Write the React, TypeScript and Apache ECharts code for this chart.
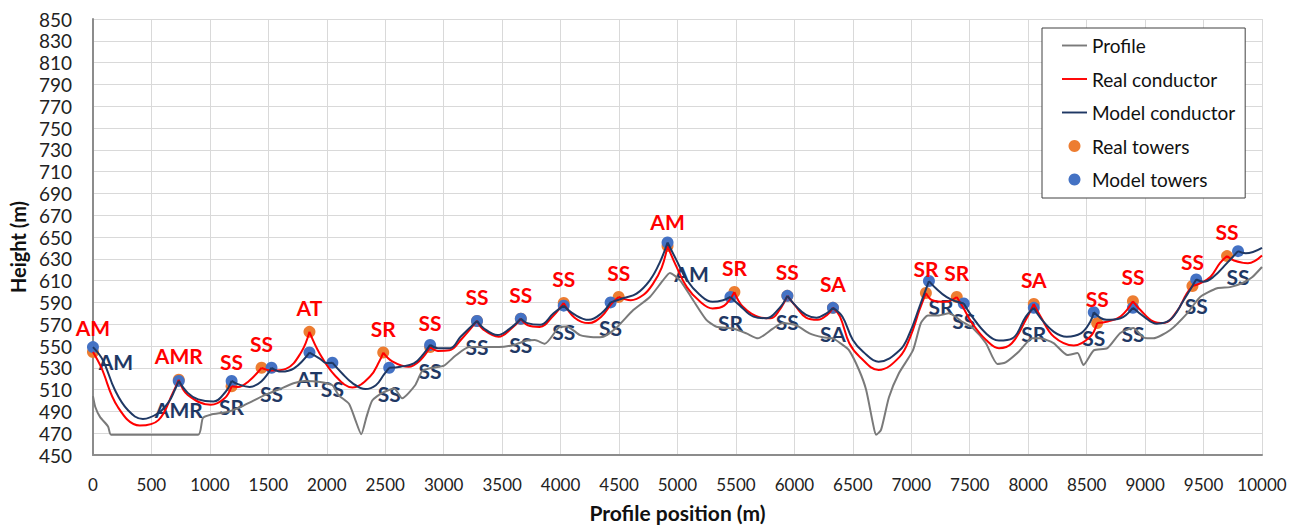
import React, { useEffect, useRef } from 'react';
import * as echarts from 'echarts';

// ---- Ground profile (m along line, height m)
const profileX = [0, 20, 60, 130, 155, 900, 940, 1007, 1152, 1263, 1348, 1468, 1578, 1723, 1809, 1945, 2048, 2100, 2190, 2245, 2295, 2340, 2389, 2474, 2577, 2645, 2756, 2816, 2900, 3003, 3100, 3217, 3300, 3473, 3600, 3712, 3780, 3865, 3985, 4053, 4167, 4281, 4366, 4470, 4622, 4764, 4878, 4935, 5020, 5134, 5247, 5333, 5475, 5589, 5688, 5816, 5901, 6015, 6129, 6245, 6330, 6400, 6468, 6553, 6613, 6672, 6698, 6741, 6809, 6894, 7014, 7082, 7142, 7236, 7321, 7440, 7526, 7637, 7736, 7807, 7921, 8035, 8100, 8217, 8336, 8422, 8473, 8561, 8677, 8788, 8899, 8985, 9070, 9215, 9360, 9471, 9616, 9727, 9838, 9915, 10000];
const profileY = [504, 494, 485, 476, 468.5, 468.5, 484, 487, 489.5, 494, 498.6, 505, 509.6, 516, 518, 517, 514, 505, 497, 482, 469, 485, 500, 507, 511, 502, 514, 527, 530, 532, 541, 549, 549, 549, 551, 555, 555.5, 552, 567, 568, 560, 558, 558.5, 566, 583, 595, 610.5, 617, 610.5, 592, 574, 567.7, 566, 561.6, 557, 566, 571, 569, 561.6, 558, 557, 552, 546, 528, 510, 479, 468.5, 473, 503, 525, 546, 571, 578, 578, 580, 572, 566.5, 552.7, 533.5, 535, 545, 557, 557, 552.7, 541.7, 543.6, 532.6, 546, 548, 562, 566.5, 558, 557, 564.7, 580, 595, 603, 604, 608, 613, 622.5];

// ---- Real towers
const realTowerX = [0, 734, 1186, 1442, 1852, 2483, 2884, 3285, 3660, 4027, 4497, 4915, 5487, 5940, 6330, 7125, 7389, 8048, 8590, 8896, 9405, 9701];
const realTowerY = [544.5, 519, 513, 530, 563, 544, 549, 573, 575, 589.5, 595, 641.7, 599.5, 596, 585, 598.6, 595, 588.5, 571, 591, 605, 632.5];
const realLabels = ['AM', 'AMR', 'SS', 'SS', 'AT', 'SR', 'SS', 'SS', 'SS', 'SS', 'SS', 'AM', 'SR', 'SS', 'SA', 'SR', 'SR', 'SA', 'SS', 'SS', 'SS', 'SS'];

// ---- Model towers
const modelTowerX = [0, 734, 1186, 1527, 1852, 2048, 2534, 2884, 3285, 3660, 4027, 4428, 4915, 5453, 5940, 6330, 7151, 7449, 8048, 8561, 8896, 9437, 9795];
const modelTowerY = [549, 518, 518, 530, 544, 534.7, 530, 551, 573, 575, 587, 590, 645, 595, 596, 585, 609.6, 589, 585, 581, 585, 611, 637];
const modelLabels = ['AM', 'AMR', 'SR', 'SS', 'AT', 'SS', 'SS', 'SS', 'SS', 'SS', 'SS', 'SS', 'AM', 'SR', 'SS', 'SA', 'SR', 'SS', 'SR', 'SS', 'SS', 'SS', 'SS'];

// ---- Conductor sag points inside each span
const realSpanPoints: number[][][] = [
  [[68, 531], [213, 494], [400, 477], [560, 482], [683, 507]],
  [[811, 505], [1007, 496], [1126, 502]],
  [[1240, 512.4], [1330, 517.5]],
  [[1530, 527.5], [1650, 529], [1780, 544]],
  [[1940, 543], [2070, 523], [2220, 512], [2370, 522], [2450, 536]],
  [[2560, 536], [2700, 531], [2800, 537]],
  [[2950, 545.5], [3050, 546], [3150, 556]],
  [[3340, 565], [3470, 558.5], [3580, 566]],
  [[3720, 569], [3820, 567.5], [3940, 578]],
  [[4120, 576], [4240, 571], [4350, 577], [4437, 589]],
  [[4600, 592], [4710, 597], [4790, 607], [4865, 622]],
  [[4990, 623], [5080, 604], [5190, 591], [5300, 584.5], [5400, 587]],
  [[5560, 586], [5700, 576.5], [5800, 575.5], [5873, 583]],
  [[6010, 586.5], [6100, 576], [6200, 574], [6280, 578.5]],
  [[6390, 577], [6470, 552.5], [6560, 540], [6720, 528], [6900, 540], [6990, 558], [7070, 583]],
  [[7180, 592], [7290, 590.5]],
  [[7440, 586], [7520, 571], [7640, 555.5], [7750, 548], [7860, 552.5], [7980, 574]],
  [[8106, 577], [8220, 558.5], [8390, 550.5], [8530, 558.5]],
  [[8680, 572.5], [8790, 577]],
  [[8960, 583], [9070, 572.5], [9160, 571], [9270, 581.5], [9355, 598]],
  [[9470, 607.5], [9560, 613.5], [9640, 626]],
  [[9760, 628.5], [9880, 626]],
];
const realEnd = [10000, 633];

const modelSpanPoints: number[][][] = [
  [[85, 537], [188, 509.6], [300, 491], [427, 483], [560, 488.5], [650, 499], [700, 509.6]],
  [[811, 507], [900, 501], [1030, 499], [1135, 508]],
  [[1240, 515], [1340, 512.5], [1440, 517.5]],
  [[1610, 526.5], [1720, 529.5]],
  [[1940, 538.5], [1995, 534.5]],
  [[2130, 525], [2220, 516], [2330, 510.5], [2420, 514], [2490, 524]],
  [[2630, 531], [2745, 534], [2830, 543]],
  [[2950, 548], [3055, 548], [3145, 558.5]],
  [[3340, 566.5], [3460, 560], [3560, 565.5]],
  [[3715, 571], [3825, 569.5], [3940, 580]],
  [[4125, 578.5], [4240, 574], [4350, 580]],
  [[4540, 594], [4650, 598], [4765, 610.5], [4850, 627]],
  [[4990, 629], [5080, 610.5], [5190, 597], [5300, 590.5], [5390, 592]],
  [[5530, 587.5], [5650, 577], [5760, 575.5], [5870, 584.5]],
  [[6010, 587], [6100, 578.5], [6190, 576], [6275, 580]],
  [[6410, 577], [6500, 555.5], [6590, 544.5], [6720, 535.5], [6900, 546], [6985, 561.5], [7070, 586]],
  [[7210, 603], [7300, 595], [7380, 591]],
  [[7520, 577], [7640, 561.5], [7750, 555], [7865, 557], [7980, 577]],
  [[8106, 575.5], [8220, 563], [8330, 558.5], [8450, 561.5], [8530, 572]],
  [[8670, 574], [8790, 575.5]],
  [[8990, 577], [9100, 570.5], [9215, 574], [9330, 592]],
  [[9500, 609], [9585, 613.5], [9700, 626]],
  [[9860, 635]],
];
const modelEnd = [10000, 640];

function buildConductor(tx: number[], ty: number[], spans: number[][][], end: number[]) {
  const out: any[] = [];
  for (let i = 0; i < spans.length; i++) {
    out.push([tx[i], ty[i]]);
    spans[i].forEach((p) => out.push([p[0], p[1]]));
    if (i + 1 < tx.length) {
      out.push([tx[i + 1], ty[i + 1]]);
      out.push([tx[i + 1], null]);
    } else {
      out.push([end[0], end[1]]);
    }
  }
  return out;
}

const FONT = 'Lato, "Open Sans", sans-serif';
const LINE_ICON = 'path://M0,0 L26,0 L26,2 L0,2 Z';
const modelLabelShift: Record<number, number[]> = { 0: [23, -11], 1: [0, 3], 12: [24, 6], 16: [12, 0], 17: [0, -8] };

export default function App() {
  const ref = useRef<HTMLDivElement>(null);
  useEffect(() => {
    const chart = echarts.init(ref.current!, null, { renderer: 'svg' });
    const realData = realTowerX.map((x, i) => ({ value: [x, realTowerY[i]], name: realLabels[i] }));
    const modelData = modelTowerX.map((x, i) => {
      const item: any = { value: [x, modelTowerY[i]], name: modelLabels[i] };
      if (modelLabelShift[i]) item.label = { offset: modelLabelShift[i] };
      return item;
    });
    chart.setOption({
      animation: false,
      backgroundColor: '#ffffff',
      grid: { left: 90, right: 41, top: 19, bottom: 73 },
      legend: {
        orient: 'vertical',
        left: 1042,
        top: 28,
        padding: [8, 10, 9, 20],
        itemWidth: 25,
        itemHeight: 12,
        itemGap: 14.5,
        backgroundColor: '#ffffff',
        borderColor: '#404040',
        borderWidth: 1,
        textStyle: { fontFamily: FONT, fontSize: 19, color: '#111' },
        data: [
          { name: 'Profile', icon: LINE_ICON },
          { name: 'Real conductor', icon: LINE_ICON },
          { name: 'Model conductor', icon: LINE_ICON },
          { name: 'Real towers', icon: 'circle' },
          { name: 'Model towers', icon: 'circle' },
        ],
      },
      xAxis: {
        type: 'value',
        min: 0,
        max: 10000,
        interval: 500,
        axisLine: { show: true, lineStyle: { color: '#8c8c8c', width: 2 } },
        axisTick: { show: false },
        axisLabel: { fontFamily: FONT, fontSize: 17, color: '#222', margin: 21, formatter: (v: number) => String(v) },
        splitLine: { show: true, lineStyle: { color: '#d9d9d9', width: 1 } },
        name: 'Profile position (m)',
        nameLocation: 'middle',
        nameGap: 47,
        nameTextStyle: { fontFamily: FONT, fontSize: 21, fontWeight: 'bold', color: '#111' },
      },
      yAxis: {
        type: 'value',
        min: 450,
        max: 850,
        interval: 20,
        axisLine: { show: true, lineStyle: { color: '#8c8c8c', width: 2 } },
        axisTick: { show: false },
        axisLabel: { fontFamily: FONT, fontSize: 19, color: '#222', margin: 21, formatter: (v: number) => String(v) },
        splitLine: { show: true, lineStyle: { color: '#d9d9d9', width: 1 } },
        name: 'Height (m)',
        nameLocation: 'middle',
        nameGap: 56,
        nameTextStyle: { fontFamily: FONT, fontSize: 20, fontWeight: 'bold', color: '#111', padding: [0, 20, 0, 0] },
      },
      series: [
        {
          name: 'Profile',
          type: 'line',
          symbol: 'none',
          smooth: 0.2,
          lineStyle: { color: '#7a7a7a', width: 2 },
          itemStyle: { color: '#7a7a7a' },
          data: profileX.map((x, i) => [x, profileY[i]]),
        },
        {
          name: 'Real conductor',
          type: 'line',
          symbol: 'none',
          smooth: 0.4,
          connectNulls: false,
          lineStyle: { color: '#ff0000', width: 2 },
          itemStyle: { color: '#ff0000' },
          data: buildConductor(realTowerX, realTowerY, realSpanPoints, realEnd),
        },
        {
          name: 'Model conductor',
          type: 'line',
          symbol: 'none',
          smooth: 0.4,
          connectNulls: false,
          lineStyle: { color: '#1f3864', width: 2 },
          itemStyle: { color: '#1f3864' },
          data: buildConductor(modelTowerX, modelTowerY, modelSpanPoints, modelEnd),
        },
        {
          name: 'Real towers',
          type: 'scatter',
          symbol: 'circle',
          symbolSize: 12,
          itemStyle: { color: '#ed7d31', opacity: 1 },
          label: {
            show: true,
            position: 'top',
            distance: 8,
            formatter: '{b}',
            color: '#ff0000',
            fontFamily: FONT,
            fontSize: 21,
            fontWeight: 'bold',
          },
          data: realData,
        },
        {
          name: 'Model towers',
          type: 'scatter',
          symbol: 'circle',
          symbolSize: 12,
          itemStyle: { color: '#4472c4', opacity: 1 },
          label: {
            show: true,
            position: 'bottom',
            distance: 9,
            formatter: '{b}',
            color: '#1f3864',
            fontFamily: FONT,
            fontSize: 21,
            fontWeight: 'bold',
          },
          data: modelData,
        },
      ],
    });
    return () => chart.dispose();
  }, []);
  return (
    <div
      ref={ref}
      style={{ position: 'fixed', left: 0, top: 0, width: 1303, height: 528, background: '#fff' }}
    />
  );
}
